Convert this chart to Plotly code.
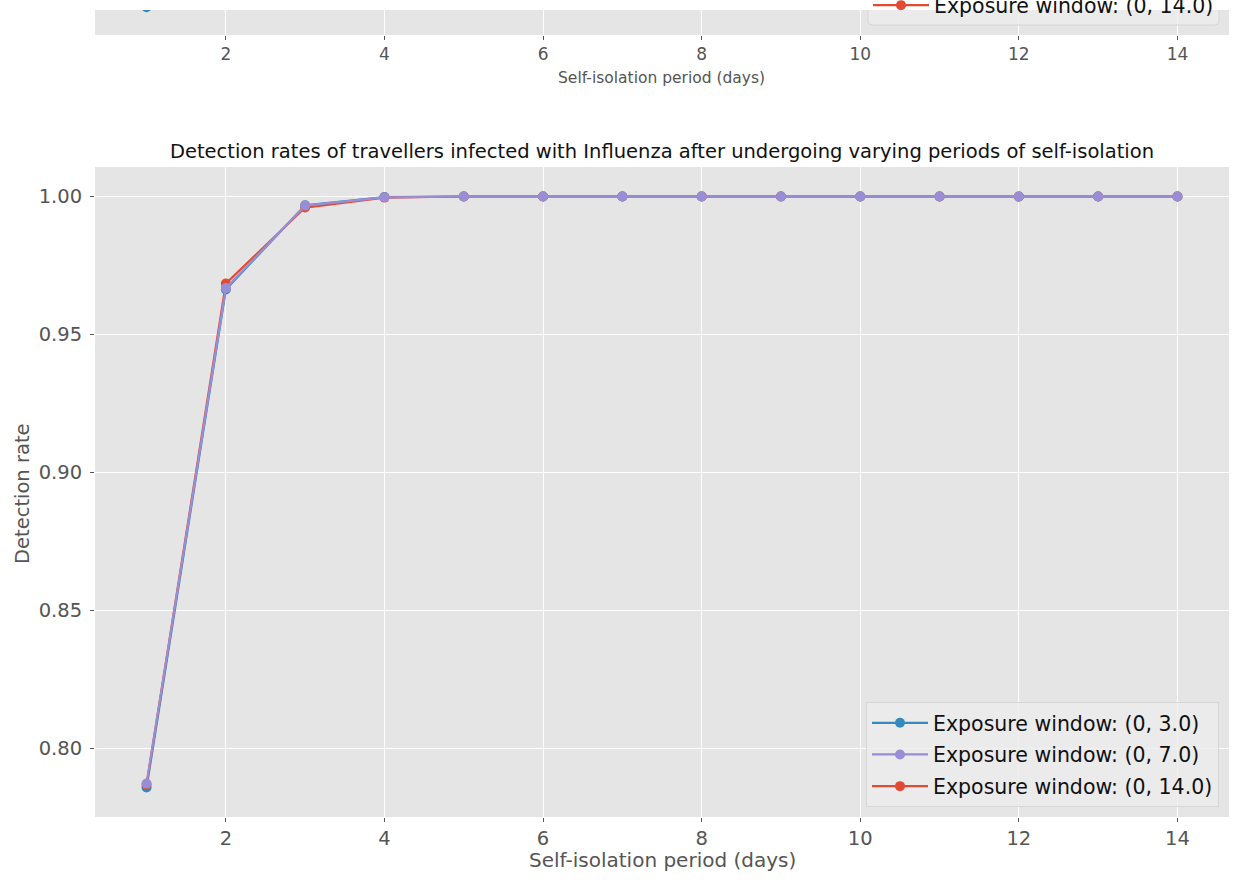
import plotly.graph_objects as go

# Self-isolation periods (days) and detection rates per exposure window
days = list(range(1, 15))
rate_3 = [0.7858, 0.9663, 0.9968, 0.9998, 1.0, 1.0, 1.0, 1.0, 1.0, 1.0, 1.0, 1.0, 1.0, 1.0]
rate_7 = [0.7872, 0.9668, 0.9967, 0.9997, 1.0, 1.0, 1.0, 1.0, 1.0, 1.0, 1.0, 1.0, 1.0, 1.0]
rate_14 = [0.7868, 0.9685, 0.9960, 0.9996, 1.0, 1.0, 1.0, 1.0, 1.0, 1.0, 1.0, 1.0, 1.0, 1.0]

# Upper panel (previous disease): only its first points fall near the lower edge
top_days = [1]
top_rate_3 = [0.7852]
top_rate_7 = [0.7866]
top_rate_14 = [0.7862]

x_ticks = [2, 4, 6, 8, 10, 12, 14]
y_ticks = [0.80, 0.85, 0.90, 0.95, 1.00]
y_tick_text = ["0.80", "0.85", "0.90", "0.95", "1.00"]

labels = ["Exposure window: (0, 3.0)", "Exposure window: (0, 7.0)", "Exposure window: (0, 14.0)"]
colors = ["#348ABD", "#988ED5", "#E24A33"]

W, H = 1238, 880
FONT = "DejaVu Sans"


def fx(px):
    return px / W


def fy(py):
    return 1 - py / H


fig = go.Figure()

# draw order: blue, red, purple (purple ends on top); legend order by rank
series = [
    (rate_3, top_rate_3, 0),
    (rate_14, top_rate_14, 2),
    (rate_7, top_rate_7, 1),
]
for vals, top_vals, i in series:
    fig.add_trace(go.Scatter(
        x=days, y=vals, mode="lines+markers", name=labels[i],
        line=dict(color=colors[i], width=2.2),
        marker=dict(color=colors[i], size=10),
        legend="legend", legendgroup=f"g{i}", legendrank=i + 1,
        xaxis="x", yaxis="y",
    ))
    fig.add_trace(go.Scatter(
        x=top_days, y=top_vals, mode="lines+markers", name=labels[i],
        line=dict(color=colors[i], width=2.2),
        marker=dict(color=colors[i], size=10),
        legend="legend2", legendgroup=f"t{i}", legendrank=i + 1,
        xaxis="x2", yaxis="y2",
    ))

axis_common = dict(
    showgrid=True, gridcolor="white", gridwidth=1.2,
    zeroline=False, showline=False,
    ticks="outside", ticklen=4, tickwidth=1, tickcolor="#555555",
)

fig.update_layout(
    width=W, height=H,
    margin=dict(l=0, r=0, t=0, b=0, autoexpand=False),
    paper_bgcolor="white", plot_bgcolor="#E5E5E5",
    font=dict(family=FONT, color="#555555"),
    showlegend=True,
    xaxis=dict(
        domain=[fx(95), fx(1229)], anchor="y",
        range=[0.35, 14.65], tickvals=x_ticks,
        tickfont=dict(size=19.5, color="#555555"),
        **axis_common,
    ),
    yaxis=dict(
        domain=[fy(817), fy(167)], anchor="x",
        range=[0.7751, 1.0107], tickvals=y_ticks, ticktext=y_tick_text,
        tickfont=dict(size=19.5, color="#555555"),
        ticklabelstandoff=4,
        **axis_common,
    ),
    xaxis2=dict(
        domain=[fx(95), fx(1229)], anchor="y2",
        range=[0.35, 14.65], tickvals=x_ticks,
        tickfont=dict(size=17, color="#555555"),
        **axis_common,
    ),
    yaxis2=dict(
        domain=[fy(35), fy(10)], anchor="x2",
        range=[0.7751, 0.7842], tickvals=y_ticks, showticklabels=False,
        **axis_common,
    ),
    legend=dict(
        x=fx(1219), xanchor="right", y=fy(807), yanchor="bottom",
        bgcolor="rgba(236,236,236,0.8)", bordercolor="#D6D6D6", borderwidth=1,
        font=dict(family=FONT, size=20.5, color="#111111"),
        traceorder="grouped", tracegroupgap=2, itemwidth=56,
    ),
    legend2=dict(
        x=fx(1219), xanchor="right", y=fy(25), yanchor="bottom",
        bgcolor="rgba(0,0,0,0)", borderwidth=0,
        font=dict(family=FONT, size=20.5, color="#111111"),
        traceorder="grouped", tracegroupgap=2, itemwidth=56,
    ),
    title=dict(
        text="Detection rates of travellers infected with Influenza after undergoing varying periods of self-isolation",
        x=fx(662), xanchor="center", y=fy(151), yanchor="middle",
        font=dict(family=FONT, size=19.5, color="#111111"),
    ),
    annotations=[
        dict(text="Self-isolation period (days)", xref="paper", yref="paper",
             x=fx(662), y=fy(860), xanchor="center", yanchor="middle",
             showarrow=False, font=dict(family=FONT, size=20, color="#555555")),
        dict(text="Detection rate", xref="paper", yref="paper",
             x=fx(22), y=fy(494), xanchor="center", yanchor="middle", textangle=-90,
             showarrow=False, font=dict(family=FONT, size=19.5, color="#555555")),
        dict(text="Self-isolation period (days)", xref="paper", yref="paper",
             x=fx(661), y=fy(78), xanchor="center", yanchor="middle",
             showarrow=False, font=dict(family=FONT, size=15.5, color="#555555")),
    ],
    shapes=[
        # lower edge of the upper panel's legend frame
        dict(type="path", xref="paper", yref="paper", layer="above",
             path=(f"M {fx(868)},{fy(-120)} L {fx(868)},{fy(21)} "
                   f"Q {fx(868)},{fy(25)} {fx(872)},{fy(25)} "
                   f"L {fx(1215)},{fy(25)} Q {fx(1219)},{fy(25)} {fx(1219)},{fy(21)} "
                   f"L {fx(1219)},{fy(-120)} Z"),
             fillcolor="rgba(236,236,236,0.8)", line=dict(color="#D6D6D6", width=1)),
        # blank strip along the top edge
        dict(type="rect", xref="paper", yref="paper", layer="above",
             x0=0, x1=1, y0=fy(10), y1=fy(-5),
             fillcolor="white", line=dict(width=0)),
    ],
)

fig.write_html("out.html")
